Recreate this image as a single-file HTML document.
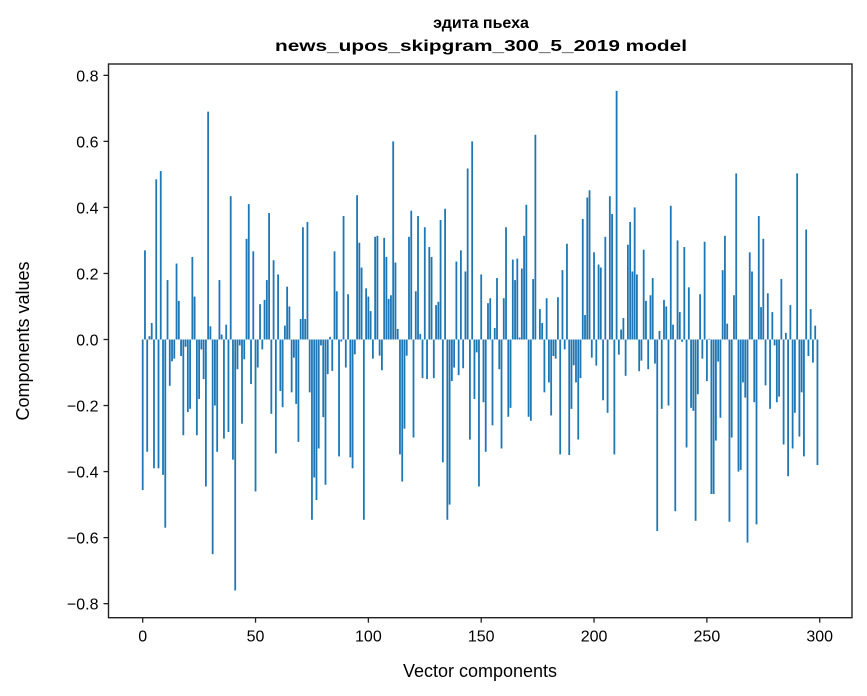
<!DOCTYPE html>
<html><head><meta charset="utf-8"><style>
html,body{margin:0;padding:0;background:#fff;}
svg{display:block;font-family:"Liberation Sans","DejaVu Sans",sans-serif;}
</style></head><body>
<svg id="chart" width="867" height="696" viewBox="0 0 867 696">
<rect x="0" y="0" width="867" height="696" fill="#fff"/>
<text x="481" y="28" text-anchor="middle" font-size="16" font-weight="bold">эдита пьеха</text>
<text x="481" y="51" text-anchor="middle" font-size="16" font-weight="bold" textLength="412" lengthAdjust="spacingAndGlyphs">news_upos_skipgram_300_5_2019 model</text>
<g id="bars"></g>
<g id="axes"></g>
<text x="480" y="677" text-anchor="middle" font-size="18">Vector components</text>
<text transform="translate(29,341) rotate(-90)" text-anchor="middle" font-size="18">Components values</text>
</svg>
<script>
const values = [
-0.456,0.27,-0.34,0.01,0.05,-0.39,0.485,-0.39,0.51,-0.41,
-0.57,0.18,-0.14,-0.066,-0.058,0.23,0.117,-0.05,-0.29,-0.022,
-0.22,-0.21,0.25,0.13,-0.29,-0.18,-0.03,-0.12,-0.445,0.69,
0.04,-0.65,-0.2,-0.34,0.18,0.015,-0.30,0.045,-0.28,0.434,
-0.364,-0.76,-0.09,-0.018,-0.255,-0.06,0.305,0.41,-0.135,0.267,
-0.46,-0.085,0.107,-0.03,0.12,0.18,0.383,-0.225,0.24,-0.345,
0.197,-0.156,-0.205,0.042,0.16,0.10,-0.16,-0.055,-0.195,-0.31,
0.062,0.34,0.062,0.356,-0.16,-0.546,-0.418,-0.486,-0.33,-0.018,
-0.235,-0.44,-0.105,0.008,-0.095,0.267,0.146,-0.354,-0.006,0.374,
-0.085,0.137,-0.357,-0.39,-0.045,0.437,0.293,0.218,-0.546,0.155,
0.13,0.086,-0.058,0.311,0.314,-0.049,-0.093,0.308,0.25,0.123,
0.134,0.60,0.233,0.032,-0.348,-0.43,-0.27,-0.049,0.311,0.39,
-0.297,0.146,0.374,0.017,-0.117,0.34,-0.12,0.28,0.25,-0.117,
0.104,0.114,0.362,-0.372,0.396,-0.546,-0.50,-0.126,-0.085,0.236,
-0.108,0.27,-0.087,0.206,0.518,-0.303,0.60,-0.18,-0.039,-0.445,
0.197,-0.19,-0.34,0.11,0.125,-0.26,0.035,0.186,-0.09,-0.33,
0.125,0.34,-0.234,-0.207,0.242,0.18,0.245,0.006,0.215,0.314,
0.408,-0.234,-0.246,0.183,0.62,0.0,0.092,0.05,-0.16,0.125,
-0.13,-0.23,-0.05,-0.058,0.128,-0.348,0.21,-0.03,0.29,-0.35,
-0.21,-0.078,-0.13,-0.303,-0.117,0.365,0.074,0.43,0.452,-0.055,
0.264,-0.079,0.227,0.218,-0.184,0.311,-0.222,0.434,0.38,-0.348,
0.753,-0.046,0.03,0.065,-0.11,0.287,0.356,0.206,0.40,0.197,
-0.096,-0.064,0.272,0.117,-0.09,0.134,0.186,-0.073,-0.58,0.026,
-0.21,0.12,0.10,-0.20,0.405,0.045,-0.52,0.30,0.083,-0.007,
0.28,-0.327,0.158,-0.207,-0.216,-0.549,-0.166,0.137,-0.058,0.296,
-0.126,0.002,-0.468,-0.468,-0.306,-0.067,-0.237,0.21,0.314,0.048,
-0.552,-0.297,0.134,0.503,-0.40,-0.395,-0.13,-0.176,-0.615,0.264,
0.206,-0.19,-0.56,0.374,0.098,0.305,-0.139,0.14,-0.21,0.083,
-0.018,-0.19,-0.173,0.183,-0.318,0.02,-0.414,0.104,-0.33,-0.222,
0.503,-0.294,-0.16,-0.354,0.333,-0.05,0.092,-0.07,0.042,-0.38
];
const xTicks = [0,50,100,150,200,250,300];
const yTicks = [-0.8,-0.6,-0.4,-0.2,0.0,0.2,0.4,0.6,0.8];
const yTickLabels = ["\u22120.8","\u22120.6","\u22120.4","\u22120.2","0.0","0.2","0.4","0.6","0.8"];

const NS = "http://www.w3.org/2000/svg";
const L = 108.5, R = 852, T = 64, B = 617.7;
function xs(i){ return 142.7 + i * 2.2567; }
function ys(v){ return 339.5 - v * 330.2; }
const barsG = document.getElementById('bars');
const axesG = document.getElementById('axes');
values.forEach(function(v, i){
  const r = document.createElementNS(NS, 'rect');
  const y0 = ys(0), y1 = ys(v);
  r.setAttribute('x', (xs(i) - 0.9).toFixed(2));
  r.setAttribute('width', '1.8');
  r.setAttribute('y', Math.min(y0, y1).toFixed(2));
  r.setAttribute('height', Math.max(0.01, Math.abs(y1 - y0)).toFixed(2));
  r.setAttribute('fill', '#1f77b4');
  
  
  barsG.appendChild(r);
});
const frame = document.createElementNS(NS, 'rect');
frame.setAttribute('x', L); frame.setAttribute('y', T);
frame.setAttribute('width', R - L); frame.setAttribute('height', B - T);
frame.setAttribute('fill', 'none'); frame.setAttribute('stroke', '#222'); frame.setAttribute('stroke-width', '1.4');


axesG.appendChild(frame);
xTicks.forEach(function(t){
  const x = xs(t);
  const ln = document.createElementNS(NS, 'line');
  ln.setAttribute('x1', x); ln.setAttribute('x2', x);
  ln.setAttribute('y1', B); ln.setAttribute('y2', B + 5);
  ln.setAttribute('stroke', '#222'); ln.setAttribute('stroke-width', '1.3');
  
  
  axesG.appendChild(ln);
  const tx = document.createElementNS(NS, 'text');
  tx.setAttribute('x', x); tx.setAttribute('y', B + 24);
  tx.setAttribute('text-anchor', 'middle'); tx.setAttribute('font-size', '16');
  tx.textContent = String(t);
  
  
  axesG.appendChild(tx);
});
yTicks.forEach(function(t, k){
  const y = ys(t);
  const ln = document.createElementNS(NS, 'line');
  ln.setAttribute('x1', L - 5); ln.setAttribute('x2', L);
  ln.setAttribute('y1', y); ln.setAttribute('y2', y);
  ln.setAttribute('stroke', '#222'); ln.setAttribute('stroke-width', '1.3');
  
  
  axesG.appendChild(ln);
  const tx = document.createElementNS(NS, 'text');
  tx.setAttribute('x', L - 10); tx.setAttribute('y', y + 6);
  tx.setAttribute('text-anchor', 'end'); tx.setAttribute('font-size', '16');
  tx.textContent = yTickLabels[k];
  
  
  axesG.appendChild(tx);
});
</script>
</body></html>
